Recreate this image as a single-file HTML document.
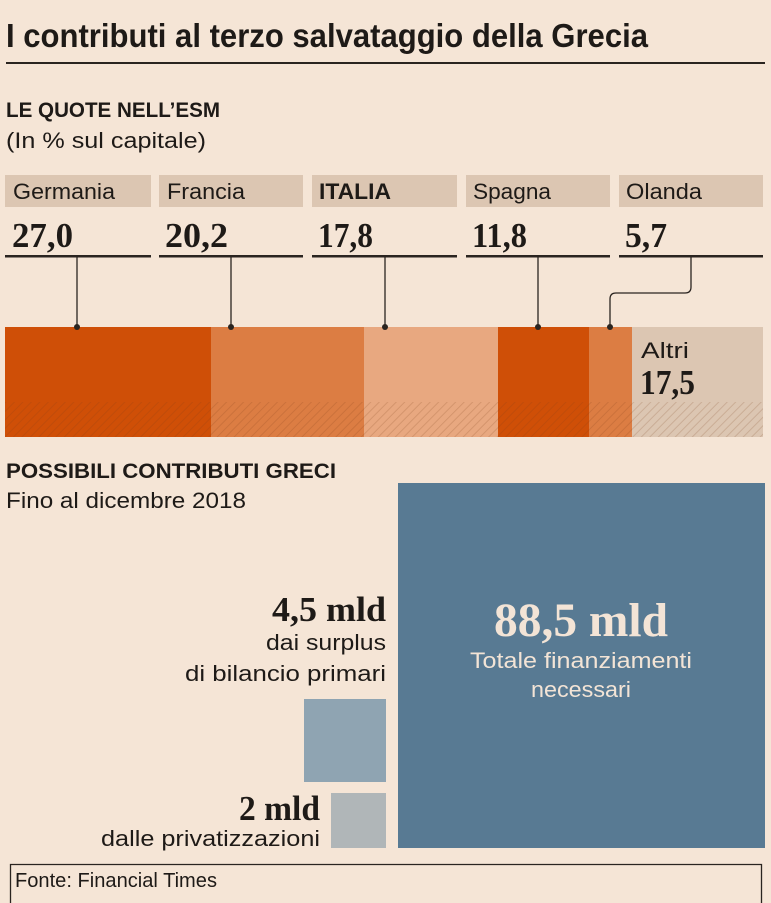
<!DOCTYPE html>
<html><head><meta charset="utf-8"><style>
html,body{margin:0;padding:0;background:#f5e5d6;}
svg{display:block;}
.s{font-family:"Liberation Sans",sans-serif;}
.n{font-family:"Liberation Serif",serif;font-weight:bold;}
</style></head><body>
<svg width="771" height="903" viewBox="0 0 771 903" xmlns="http://www.w3.org/2000/svg">
<defs>
<pattern id="h" width="6" height="6" patternUnits="userSpaceOnUse" patternTransform="rotate(45)">
<rect width="6" height="6" fill="rgba(255,255,255,0)"/><line x1="0" y1="0" x2="0" y2="6" stroke="rgba(120,60,20,0.18)" stroke-width="2"/>
</pattern>
</defs>
<rect width="771" height="903" fill="#f5e5d6"/>
<text x="6" y="47" class="s" font-weight="bold" font-size="33" fill="#1e1a17" textLength="642" lengthAdjust="spacingAndGlyphs">I contributi al terzo salvataggio della Grecia</text>
<rect x="6" y="62" width="759" height="2" fill="#2a2420"/>
<text x="6" y="117" class="s" font-weight="bold" font-size="21" fill="#1e1a17" textLength="214" lengthAdjust="spacingAndGlyphs">LE QUOTE NELL’ESM</text>
<text x="6" y="148" class="s" font-size="22" fill="#1e1a17" textLength="200" lengthAdjust="spacingAndGlyphs">(In % sul capitale)</text>
<g fill="#dcc6b2">
<rect x="5" y="175" width="146" height="32"/><rect x="159" y="175" width="144" height="32"/><rect x="312" y="175" width="145" height="32"/><rect x="466" y="175" width="144" height="32"/><rect x="619" y="175" width="144" height="32"/>
</g>
<g class="s" font-size="22" fill="#1e1a17">
<text x="13" y="199" textLength="102" lengthAdjust="spacingAndGlyphs">Germania</text>
<text x="167" y="199" textLength="78" lengthAdjust="spacingAndGlyphs">Francia</text>
<text x="319" y="199" font-weight="bold" textLength="72" lengthAdjust="spacingAndGlyphs">ITALIA</text>
<text x="473" y="199" textLength="78" lengthAdjust="spacingAndGlyphs">Spagna</text>
<text x="626" y="199" textLength="76" lengthAdjust="spacingAndGlyphs">Olanda</text>
</g>
<g class="n" font-size="35" fill="#1e1a17" lengthAdjust="spacingAndGlyphs">
<text x="12" y="247" textLength="61" lengthAdjust="spacingAndGlyphs">27,0</text><text x="165" y="247" textLength="63" lengthAdjust="spacingAndGlyphs">20,2</text><text x="318" y="247" textLength="55" lengthAdjust="spacingAndGlyphs">17,8</text><text x="472" y="247" textLength="55" lengthAdjust="spacingAndGlyphs">11,8</text><text x="625" y="247" textLength="42" lengthAdjust="spacingAndGlyphs">5,7</text>
</g>
<g fill="#2a2420">
<rect x="5" y="255" width="146" height="2.5"/><rect x="159" y="255" width="144" height="2.5"/><rect x="312" y="255" width="145" height="2.5"/><rect x="466" y="255" width="144" height="2.5"/><rect x="619" y="255" width="144" height="2.5"/>
</g>
<rect x="5" y="327" width="206" height="110" fill="#cf4f07"/>
<rect x="211" y="327" width="153" height="110" fill="#dc7d43"/>
<rect x="364" y="327" width="134" height="110" fill="#e8a880"/>
<rect x="498" y="327" width="91" height="110" fill="#cf4f07"/>
<rect x="589" y="327" width="43" height="110" fill="#dc7d43"/>
<rect x="632" y="327" width="131" height="110" fill="#dcc6b2"/>
<rect x="5" y="402" width="758" height="35" fill="url(#h)"/>
<g stroke="#2a2420" stroke-width="1.3" fill="none">
<line x1="77" y1="257" x2="77" y2="327"/><line x1="231" y1="257" x2="231" y2="327"/><line x1="385" y1="257" x2="385" y2="327"/><line x1="538" y1="257" x2="538" y2="327"/>
<path d="M691 257 V287 Q691 293 685 293 H616 Q610 293 610 299 V327"/>
</g>
<g fill="#2a2420"><circle cx="77" cy="327" r="3"/><circle cx="231" cy="327" r="3"/><circle cx="385" cy="327" r="3"/><circle cx="538" cy="327" r="3"/><circle cx="610" cy="327" r="3"/></g>
<text x="641" y="358" class="s" font-size="22" fill="#1e1a17" textLength="48" lengthAdjust="spacingAndGlyphs">Altri</text>
<text x="640" y="394" class="n" font-size="35" fill="#1e1a17" textLength="55" lengthAdjust="spacingAndGlyphs">17,5</text>
<text x="6" y="478" class="s" font-weight="bold" font-size="21" fill="#1e1a17" textLength="330" lengthAdjust="spacingAndGlyphs">POSSIBILI CONTRIBUTI GRECI</text>
<text x="6" y="508" class="s" font-size="22" fill="#1e1a17" textLength="240" lengthAdjust="spacingAndGlyphs">Fino al dicembre 2018</text>
<rect x="398" y="483" width="367" height="365" fill="#587a93"/>
<text x="581" y="636" text-anchor="middle" class="n" font-size="48" fill="#f3e4d6" textLength="174" lengthAdjust="spacingAndGlyphs">88,5 mld</text>
<text x="581" y="668" text-anchor="middle" class="s" font-size="22" fill="#f3e4d6" textLength="222" lengthAdjust="spacingAndGlyphs">Totale finanziamenti</text>
<text x="581" y="697" text-anchor="middle" class="s" font-size="22" fill="#f3e4d6" textLength="100" lengthAdjust="spacingAndGlyphs">necessari</text>
<rect x="304" y="699" width="82" height="83" fill="#8fa4b2"/>
<rect x="331" y="793" width="55" height="55" fill="#b0b6b8"/>
<text x="386" y="621" text-anchor="end" class="n" font-size="35" fill="#1e1a17" textLength="114" lengthAdjust="spacingAndGlyphs">4,5 mld</text>
<text x="386" y="650" text-anchor="end" class="s" font-size="22" fill="#1e1a17" textLength="120" lengthAdjust="spacingAndGlyphs">dai surplus</text>
<text x="386" y="681" text-anchor="end" class="s" font-size="22" fill="#1e1a17" textLength="201" lengthAdjust="spacingAndGlyphs">di bilancio primari</text>
<text x="320" y="820" text-anchor="end" class="n" font-size="35" fill="#1e1a17" textLength="81" lengthAdjust="spacingAndGlyphs">2 mld</text>
<text x="320" y="846" text-anchor="end" class="s" font-size="22" fill="#1e1a17" textLength="219" lengthAdjust="spacingAndGlyphs">dalle privatizzazioni</text>
<path d="M10.5 903 V864.5 H761.5 V903" stroke="#2a2420" stroke-width="1.3" fill="none"/>
<text x="15" y="887" class="s" font-size="20" fill="#1e1a17" textLength="202" lengthAdjust="spacingAndGlyphs">Fonte: Financial Times</text>
</svg>
</body></html>
